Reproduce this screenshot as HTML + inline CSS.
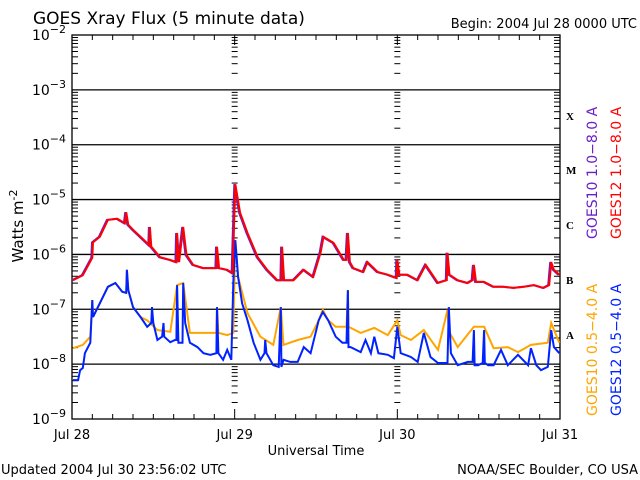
<!DOCTYPE html>
<html><head><meta charset="utf-8"><style>
html,body{margin:0;padding:0;background:#fff;}
svg{display:block;font-family:"DejaVu Sans","Liberation Sans",sans-serif;}
</style></head><body>
<svg id="chart" width="640" height="480" viewBox="0 0 640 480" xmlns="http://www.w3.org/2000/svg">
<rect width="640" height="480" fill="#fff"/>
<text x="33" y="24" font-size="17">GOES Xray Flux (5 minute data)</text>
<text x="637" y="28" font-size="13" text-anchor="end">Begin:  2004 Jul 28 0000 UTC</text>
<g id="grid"></g>
<g id="ticks"></g>
<g id="series"></g>
<g id="labels"></g>
<text transform="translate(23,226) rotate(-90)" font-size="15" text-anchor="middle">Watts m<tspan dy="-6" font-size="11">-2</tspan></text>
<text x="316" y="455" font-size="13" text-anchor="middle">Universal Time</text>
<text x="1" y="474" font-size="13">Updated 2004 Jul 30 23:56:02 UTC</text>
<text x="638" y="474" font-size="13" text-anchor="end">NOAA/SEC Boulder, CO USA</text>
<g font-family="Liberation Serif,serif" font-weight="bold" font-size="11">
<text x="566" y="120">X</text>
<text x="566" y="174">M</text>
<text x="566" y="229">C</text>
<text x="566" y="284">B</text>
<text x="566" y="339">A</text>
</g>
<g font-size="14">
<text transform="translate(597,239) rotate(-90)" fill="#6a1fc8">GOES10 1.0−8.0 A</text>
<text transform="translate(621,239) rotate(-90)" fill="#ff0000">GOES12 1.0−8.0 A</text>
<text transform="translate(597,416) rotate(-90)" fill="#ffa500">GOES10 0.5−4.0 A</text>
<text transform="translate(621,416) rotate(-90)" fill="#0022ff">GOES12 0.5−4.0 A</text>
</g>
</svg>
<script>
const dayLabels = ["Jul 28","Jul 29","Jul 30","Jul 31"];
const decades = [-9,-8,-7,-6,-5,-4,-3,-2];
const longT = [0.15,1.6,3.0,3.1,4.1,5.3,6.7,7.8,8.0,8.3,9.0,10.3,11.4,11.5,11.7,13.0,14.5,15.4,15.5,15.8,16.4,16.9,17.9,19.4,21.3,21.4,21.7,22.9,23.7,24.1,24.8,25.9,27.4,28.8,30.3,30.9,31.0,31.3,32.7,34.2,35.6,36.7,37.1,38.6,40.1,40.5,40.7,41.0,41.5,43.0,43.6,45.1,46.6,47.9,48.0,48.3,49.5,51.0,52.2,54.0,55.3,55.4,55.7,56.9,58.4,59.1,59.3,59.6,60.8,62.2,63.7,65.2,66.7,68.2,69.6,70.4,70.7,71.1,71.9];
const g12Long = [-6.47,-6.38,-6.06,-5.78,-5.68,-5.37,-5.35,-5.43,-5.23,-5.46,-5.55,-5.70,-5.83,-5.50,-5.86,-6.05,-6.10,-6.14,-5.61,-6.14,-5.50,-6.01,-6.19,-6.25,-6.25,-5.86,-6.25,-6.28,-6.34,-4.72,-5.24,-5.61,-6.05,-6.28,-6.47,-6.47,-5.86,-6.47,-6.47,-6.28,-6.41,-5.96,-5.68,-5.79,-6.10,-6.10,-5.61,-6.14,-6.25,-6.32,-6.14,-6.32,-6.37,-6.43,-6.10,-6.37,-6.37,-6.47,-6.19,-6.52,-6.47,-5.97,-6.37,-6.47,-6.52,-6.47,-6.19,-6.50,-6.50,-6.59,-6.59,-6.61,-6.59,-6.56,-6.61,-6.56,-6.14,-6.28,-6.37];
const shortT = [0.15,0.9,1.2,1.6,1.9,2.7,3.0,3.1,4.1,5.3,6.4,7.4,8.0,8.1,8.3,9.0,10.1,11.1,11.7,11.8,12.0,12.6,13.3,13.5,13.6,14.5,15.2,15.4,15.5,15.7,16.3,16.4,16.7,17.4,18.5,19.4,20.4,21.3,21.4,21.6,22.3,22.9,23.5,23.8,24.1,24.5,25.1,25.9,26.8,27.8,28.4,28.5,28.7,29.7,30.5,30.8,30.9,31.2,32.2,33.3,34.2,35.2,36.4,37.0,37.8,38.9,39.9,40.5,40.7,40.8,41.1,42.6,43.3,44.1,44.6,45.2,46.6,47.5,48.0,48.5,50.0,51.0,51.9,52.9,54.0,55.4,55.6,55.9,56.9,58.4,59.1,59.3,59.4,59.9,60.6,60.8,60.9,61.4,62.2,63.3,64.3,65.8,67.3,67.7,68.5,69.2,70.2,70.7,71.1,71.9];
const g12Short = [-8.29,-8.29,-8.11,-8.07,-7.80,-7.61,-6.83,-7.14,-6.89,-6.59,-6.52,-6.68,-6.70,-6.28,-6.65,-6.96,-7.14,-7.32,-7.25,-6.96,-7.25,-7.56,-7.50,-7.25,-7.50,-7.60,-7.56,-7.56,-6.56,-7.61,-7.61,-6.52,-7.25,-7.61,-7.69,-7.80,-7.83,-7.80,-6.96,-7.80,-7.92,-7.74,-7.92,-6.52,-5.74,-6.41,-6.89,-7.20,-7.61,-7.92,-7.80,-7.56,-7.80,-8.02,-8.05,-6.96,-8.05,-7.92,-7.96,-7.96,-7.69,-7.80,-7.20,-7.05,-7.20,-7.50,-7.61,-7.61,-6.65,-7.69,-7.69,-7.78,-7.56,-7.80,-7.50,-7.80,-7.83,-7.89,-7.32,-7.80,-7.87,-7.96,-7.43,-7.87,-7.98,-7.98,-6.96,-7.80,-8.02,-7.96,-7.96,-7.38,-8.02,-8.02,-7.98,-7.38,-7.98,-8.02,-8.02,-7.74,-8.02,-7.83,-8.02,-7.71,-8.02,-8.11,-8.05,-7.38,-7.69,-7.80];
const g10ShortT = [0.15,1.6,2.7,3.0,3.1,4.1,5.3,6.4,7.4,8.0,8.1,8.3,9.0,10.1,11.1,12.6,14.5,15.5,16.4,17.4,19.4,21.3,21.4,21.6,22.9,23.8,24.1,24.5,25.9,27.8,29.7,30.8,31.2,33.3,35.2,36.4,37.0,37.8,38.9,40.5,40.7,40.8,42.6,44.6,46.6,48.0,48.5,50.0,51.9,54.0,55.4,55.6,56.9,59.3,60.8,62.2,64.3,65.8,67.7,70.2,70.7,71.9];
const g10Short = [-7.71,-7.65,-7.50,-6.83,-7.14,-6.89,-6.59,-6.52,-6.68,-6.70,-6.28,-6.65,-6.96,-7.14,-7.20,-7.38,-7.41,-6.56,-6.52,-7.43,-7.43,-7.43,-6.96,-7.43,-7.47,-7.43,-5.74,-6.41,-7.07,-7.50,-7.65,-6.96,-7.65,-7.56,-7.50,-7.20,-7.01,-7.20,-7.32,-7.32,-6.65,-7.32,-7.43,-7.34,-7.47,-7.20,-7.47,-7.56,-7.38,-7.74,-7.01,-7.40,-7.69,-7.32,-7.32,-7.71,-7.69,-7.78,-7.65,-7.61,-7.25,-7.61];

const X0=72, X1=560, Y0=35, Y1=419;
const xs = h => X0 + h*(X1-X0)/72;
const ys = l => Y0 + (-2 - l)*(Y1-Y0)/7;
const NS="http://www.w3.org/2000/svg";
function mk(tag, attrs, parent){const e=document.createElementNS(NS,tag);for(const k in attrs)e.setAttribute(k,attrs[k]);parent.appendChild(e);return e;}
const grid=document.getElementById('grid'), ticks=document.getElementById('ticks'), series=document.getElementById('series'), labels=document.getElementById('labels');

// frame
const fr = mk('rect',{x:X0,y:Y0,width:X1-X0,height:Y1-Y0,fill:'none',stroke:'#000','stroke-width':1.3},grid);


decades.forEach(d=>{
  const y=ys(d);
  if(d>-9 && d<-2){
    const g=mk('line',{x1:X0,x2:X1,y1:y,y2:y,stroke:'#000','stroke-width':1.3},grid);
    
    
  }
  const t=mk('text',{x:66,y:y+5,'font-size':14,'text-anchor':'end'},labels);
  
  
  t.textContent='10';
  const sp=mk('tspan',{dy:-7,'font-size':11},t); sp.textContent='−'+(-d);
  if(d<-2){
    for(let m=2;m<=9;m++){
      const yy=ys(d+Math.log10(m));
      [[X0,X0+6],[X1-6,X1],[xs(24)-3,xs(24)+3],[xs(48)-3,xs(48)+3]].forEach(p=>{
        const tk=mk('line',{x1:p[0],x2:p[1],y1:yy,y2:yy,stroke:'#000','stroke-width':1},ticks);
        
        
      });
    }
  }
});
for(let h=0;h<=72;h+=3){
  const x=xs(h), len=(h%24===0)?10:5;
  [[Y1,Y1-len],[Y0,Y0+len]].forEach(p=>{
    const tk=mk('line',{x1:x,x2:x,y1:p[0],y2:p[1],stroke:'#000','stroke-width':1},ticks);
    
    
  });
}
dayLabels.forEach((s,i)=>{
  const t=mk('text',{x:xs(i*24),y:439,'font-size':13,'text-anchor':'middle'},labels);
  
  
  t.textContent=s;
});
function line(T,V,color,dx,name){
  const pts=T.map((t,i)=>(xs(t)+dx).toFixed(1)+','+ys(V[i]).toFixed(1)).join(' ');
  const p=mk('polyline',{points:pts,fill:'none',stroke:color,'stroke-width':2,'stroke-linejoin':'miter'},series);
  
  
}
line(g10ShortT,g10Short,'#ffa500',0,'goes10-short-line');
line(shortT,g12Short,'#0022ff',0,'goes12-short-line');
line(longT,g12Long,'#6a1fc8',-1,'goes10-long-line');
line(longT,g12Long,'#ff0000',0,'goes12-long-line');
</script>
</body></html>
